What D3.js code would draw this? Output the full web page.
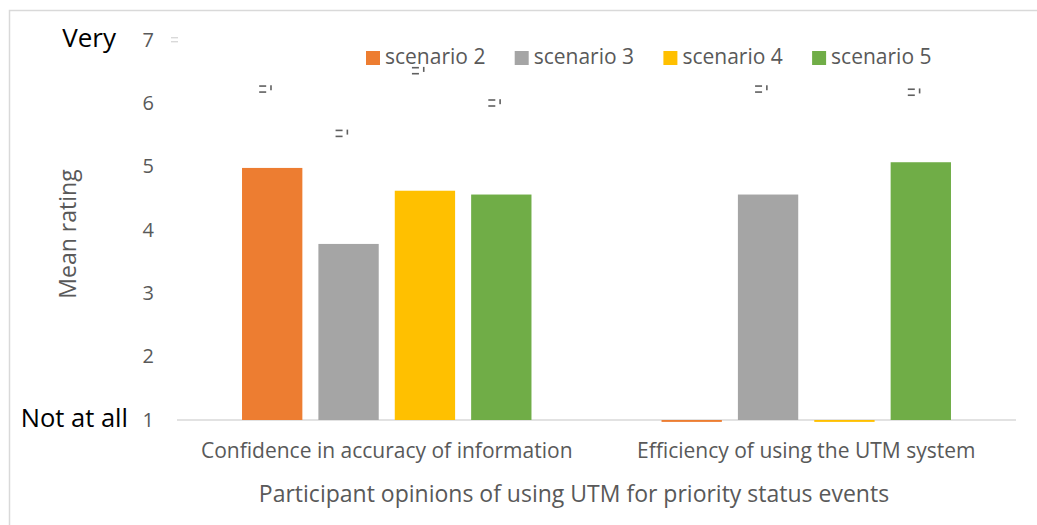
<!DOCTYPE html>
<html>
<head>
<meta charset="utf-8">
<script src="https://cdn.jsdelivr.net/npm/d3@7"></script>
<style>
  body { margin: 0; background: #fff; }
  text { font-family: "Open Sans", "Noto Sans", sans-serif; }
</style>
</head>
<body>
<div id="chart"></div>
<script>
// data
var categories = ["Confidence in accuracy of information", "Efficiency of using the UTM system"];
var seriesNames = ["scenario 2", "scenario 3", "scenario 4", "scenario 5"];
var seriesColors = ["#ed7d31", "#a5a5a5", "#ffc000", "#70ad47"];
var confidenceVals = [4.98, 3.78, 4.62, 4.56];
var efficiencyVals = [0.97, 4.56, 0.97, 5.07];
// little clipped marks above the bars (error label remnants)
var confidenceMarks = [6.23, 5.53, 6.52, 6.01];
var efficiencyMarks = [null, 6.23, null, 6.18];
var yTicks = [1, 2, 3, 4, 5, 6, 7];

var W = 1037, H = 525;
var svg = d3.select("#chart").append("svg")
    .attr("width", W)
    .attr("height", H);

// chart frame
svg.append("rect")
    .attr("x", 9.5).attr("y", 10.5)
    .attr("width", 1100).attr("height", 600)
    .style("fill", "none")
    .style("stroke", "#d9d9d9")
    .style("stroke-width", 1.5);

var plot = {left: 177, right: 1016, top: 40, bottom: 420};

var y = d3.scaleLinear()
    .domain([1, 7])
    .range([plot.bottom, plot.top]);

var x0 = d3.scaleBand()
    .domain(categories)
    .range([plot.left, plot.right])
    .paddingInner(0.31)
    .paddingOuter(0.155);

var x1 = d3.scaleBand()
    .domain(seriesNames)
    .range([0, x0.bandwidth()])
    .paddingInner(0.21);

var color = d3.scaleOrdinal().domain(seriesNames).range(seriesColors);

var rows = [
    {cat: categories[0], vals: confidenceVals, marks: confidenceMarks},
    {cat: categories[1], vals: efficiencyVals, marks: efficiencyMarks}
];

// y axis labels (no line)
var yAxis = svg.append("g")
    .attr("transform", "translate(154,0)")
    .call(d3.axisLeft(y).tickValues(yTicks).tickFormat(d3.format("d")).tickSize(0).tickPadding(0));
yAxis.select(".domain").remove();
yAxis.selectAll("text")
    .style("font-family", "'Open Sans', sans-serif")
    .style("font-size", "20px")
    .attr("dy", "0.3em")
    .attr("fill", "#595959");

// baseline
svg.append("line")
    .attr("x1", plot.left).attr("x2", plot.right)
    .attr("y1", y(1)).attr("y2", y(1))
    .style("stroke", "#d9d9d9")
    .style("stroke-width", 1.5);

// bars
var groups = svg.selectAll(".grp")
    .data(rows)
    .enter().append("g")
    .attr("class", "grp")
    .attr("transform", function(d) { return "translate(" + x0(d.cat) + ",0)"; });

groups.selectAll("rect")
    .data(function(d) {
        return d.vals.map(function(v, i) { return {name: seriesNames[i], v: v}; });
    })
    .enter().append("rect")
    .attr("x", function(d) { return x1(d.name); })
    .attr("width", x1.bandwidth())
    .attr("y", function(d) { return Math.min(y(d.v), y(1)); })
    .attr("height", function(d) { return Math.max(Math.abs(y(1) - y(d.v)), 1); })
    .attr("fill", function(d) { return color(d.name); });

// small marks
var markG = groups.selectAll(".mk")
    .data(function(d) {
        return d.marks.map(function(v, i) { return {name: seriesNames[i], v: v}; })
            .filter(function(m) { return m.v != null; });
    })
    .enter().append("g")
    .attr("class", "mk")
    .attr("transform", function(d) {
        return "translate(" + (x1(d.name) + x1.bandwidth() / 2 - 13) + "," + y(d.v) + ")";
    })
    .attr("fill", "#606060");
markG.append("rect").attr("x", 0).attr("y", -3.5).attr("width", 7).attr("height", 1.6);
markG.append("rect").attr("x", 0).attr("y", 2.5).attr("width", 7).attr("height", 1.6);
markG.append("rect").attr("x", 11).attr("y", -3.5).attr("width", 1.6).attr("height", 5);

// faint mark next to the 7
var topMark = svg.append("g")
    .attr("transform", "translate(171," + y(7) + ")")
    .attr("fill", "#d9d9d9");
topMark.append("rect").attr("x", 0).attr("y", -3).attr("width", 7).attr("height", 1.4);
topMark.append("rect").attr("x", 0).attr("y", 1).attr("width", 7).attr("height", 1.4);

// category labels
svg.selectAll(".catlab")
    .data(categories)
    .enter().append("text")
    .attr("class", "catlab")
    .attr("x", function(d) { return x0(d) + x0.bandwidth() / 2; })
    .attr("y", 458)
    .attr("text-anchor", "middle")
    .style("font-size", "21px")
    .attr("fill", "#595959")
    .text(function(d) { return d; });

// axis titles
svg.append("text")
    .attr("x", 574)
    .attr("y", 502)
    .attr("text-anchor", "middle")
    .style("font-size", "23px")
    .attr("fill", "#595959")
    .text("Participant opinions of using UTM for priority status events");

svg.append("text")
    .attr("transform", "translate(76,234) rotate(-90)")
    .attr("text-anchor", "middle")
    .style("font-size", "23px")
    .attr("fill", "#595959")
    .text("Mean rating");

svg.append("text")
    .attr("x", 116).attr("y", 47)
    .attr("text-anchor", "end")
    .style("font-size", "26px")
    .attr("fill", "#000")
    .text("Very");

svg.append("text")
    .attr("x", 128).attr("y", 427)
    .attr("text-anchor", "end")
    .style("font-size", "25.5px")
    .attr("fill", "#000")
    .text("Not at all");

// legend
var legend = svg.selectAll(".leg")
    .data(seriesNames)
    .enter().append("g")
    .attr("class", "leg")
    .attr("transform", function(d, i) { return "translate(" + (366 + i * 148.7) + ",51)"; });
legend.append("rect")
    .attr("width", 14).attr("height", 14)
    .attr("fill", function(d) { return color(d); });
legend.append("text")
    .attr("x", 19).attr("y", 13)
    .style("font-size", "21px")
    .attr("fill", "#595959")
    .text(function(d) { return d; });
</script>
</body>
</html>
